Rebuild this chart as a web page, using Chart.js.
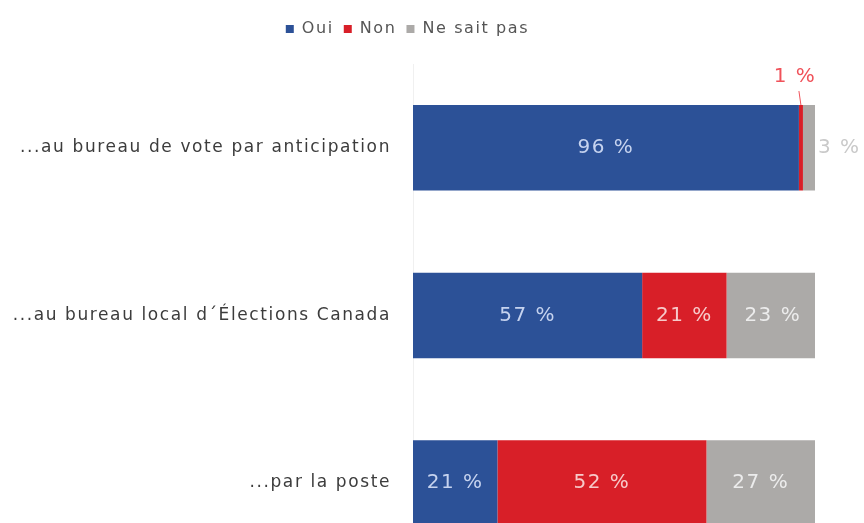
<!DOCTYPE html>
<html>
<head>
<meta charset="utf-8">
<script src="https://cdn.jsdelivr.net/npm/chart.js@4.4.1/dist/chart.umd.min.js"></script>
<style>
  html, body { margin: 0; padding: 0; background: #fff; overflow: hidden; }
  #myChart { display: block; }
</style>
</head>
<body>
<canvas id="myChart" width="864" height="599"></canvas>
<script>
var categories = [
  "...au bureau de vote par anticipation",
  "...au bureau local d\u00b4\u00c9lections Canada",
  "...par la poste"
];
var oui = [96, 57, 21];
var non = [1, 21, 52];
var nsp = [3, 23, 27];

var colours = ["#2c5197", "#d81f28", "#acaaa8"];
var insideText = ["#c6d3ef", "#f7caca", "#ececec"];
var outsideText = ["#2c5197", "#f0525a", "#c9c9c9"];

// the picture's font is wide, so space the letters a bit
const spacing = {
  id: "spacing",
  beforeLayout: function (chart) { chart.ctx.letterSpacing = "1.6px"; },
  beforeDraw: function (chart) { chart.ctx.letterSpacing = "1.6px"; },
};

// taller legend so the bars start where they do in the picture
const legendHeight = {
  id: "legendHeight",
  beforeInit: function (chart) {
    const fit = chart.legend.fit;
    chart.legend.fit = function () {
      fit.bind(chart.legend)();
      this.height = 53;
    };
  },
};

// value labels, drawn by hand since there is no datalabels plugin
const valueLabels = {
  id: "valueLabels",
  afterDatasetsDraw: function (chart) {
    const ctx = chart.ctx;
    ctx.save();
    ctx.font = "20px 'DejaVu Sans'";
    ctx.letterSpacing = "1.5px";
    ctx.textBaseline = "middle";
    chart.data.datasets.forEach(function (ds, di) {
      const meta = chart.getDatasetMeta(di);
      meta.data.forEach(function (bar, i) {
        const v = ds.data[i];
        const txt = v + " %";
        const left = bar.base, right = bar.x;
        if (v >= 5) {
          ctx.fillStyle = insideText[di];
          ctx.textAlign = "center";
          ctx.fillText(txt, (left + right) / 2, bar.y);
        } else if (di == 1) {
          ctx.fillStyle = outsideText[di];
          ctx.textAlign = "center";
          ctx.fillText(txt, (left + right) / 2 - 6, bar.y - bar.height / 2 - 28);
          ctx.strokeStyle = outsideText[di];
          ctx.lineWidth = 1;
          ctx.beginPath();
          ctx.moveTo((left + right) / 2 - 2, bar.y - bar.height / 2 - 14);
          ctx.lineTo((left + right) / 2, bar.y - bar.height / 2);
          ctx.stroke();
        } else {
          ctx.fillStyle = outsideText[di];
          ctx.textAlign = "left";
          ctx.fillText(txt, right + 3, bar.y);
        }
      });
    });
    ctx.restore();
  },
};

const data = {
  labels: categories,
  datasets: [
    { label: "Oui", data: oui, backgroundColor: colours[0] },
    { label: "Non", data: non, backgroundColor: colours[1] },
    { label: "Ne sait pas", data: nsp, backgroundColor: colours[2] },
  ],
};

const config = {
  type: "bar",
  data: data,
  options: {
    indexAxis: "y",
    responsive: false,
    animation: false,
    layout: { padding: { left: 0, right: 49, top: 11, bottom: 0 } },
    datasets: {
      bar: { barPercentage: 0.51, categoryPercentage: 1 },
    },
    plugins: {
      legend: {
        position: "top",
        labels: {
          boxWidth: 8,
          boxHeight: 8,
          padding: 10,
          color: "#555",
          font: { family: "'DejaVu Sans'", size: 16 },
        },
      },
      tooltip: { enabled: false },
    },
    scales: {
      x: {
        stacked: true,
        display: false,
        min: 0,
        max: 100,
      },
      y: {
        stacked: true,
        afterFit: function (scale) { scale.width = 413; },
        grid: { display: false, drawTicks: false },
        border: { display: true, color: "#f0f0f0" },
        ticks: {
          padding: 22,
          color: "#3c3c3c",
          font: { family: "'DejaVu Sans'", size: 17 },
        },
      },
    },
  },
  plugins: [spacing, legendHeight, valueLabels],
};

const myChart = new Chart(document.getElementById("myChart"), config);
</script>
</body>
</html>
